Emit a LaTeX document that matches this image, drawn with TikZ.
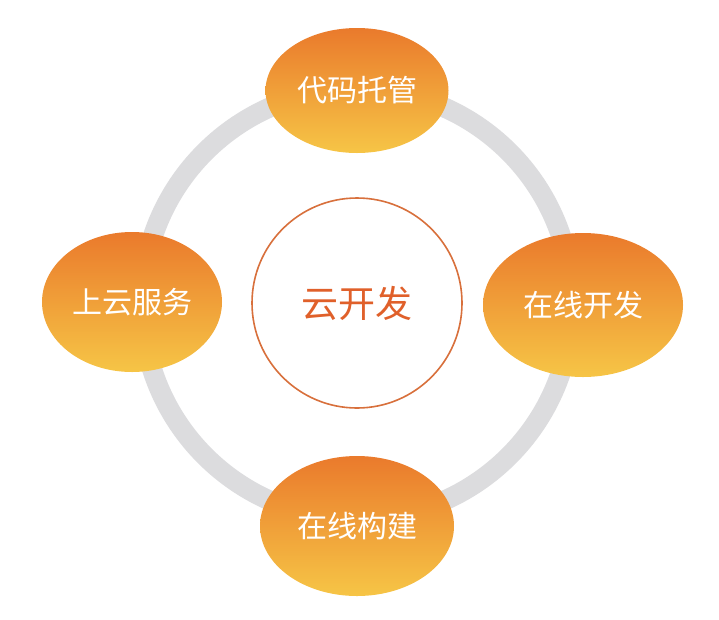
\documentclass[tikz,border=0pt]{standalone}
\usepackage{fontspec}
\setmainfont{Noto Sans CJK SC}
\usepackage{tikz}
\usetikzlibrary{positioning,shapes.geometric}
\definecolor{RingGray}{HTML}{DCDCDE}
\definecolor{PetalTop}{HTML}{EA7A2C}
\definecolor{PetalBot}{HTML}{F6C546}
\definecolor{HubLine}{HTML}{D8703C}
\definecolor{HubText}{HTML}{E0602A}

\begin{document}
\begin{tikzpicture}[x=1pt,y=-1pt,
ring/.style={draw=RingGray,line width=20pt},
petal/.style={ellipse,inner sep=0pt,top color=PetalTop,bottom color=PetalBot,
 text=white,font=\fontsize{30}{36}\selectfont},
hub/.style={circle,draw=HubLine,line width=1.6pt,fill=white,minimum size=210pt,
 text=HubText,font=\fontsize{37}{44}\selectfont}]
\useasboundingbox (0,0) rectangle (719,619);
\coordinate (mid) at (357,304);
\draw[ring] (mid) circle (215);
\node[hub] (hub) at (357,303) {云开发};
\node[petal,minimum width=183pt,minimum height=125pt,above=44pt of hub] (repo) {代码托管};
\node[petal,minimum width=180pt,minimum height=140pt,left=29pt of hub,yshift=1pt] (cloud) {上云服务};
\node[petal,minimum width=200pt,minimum height=144pt,right=20pt of hub,yshift=-2pt] (ide) {在线开发};
\node[petal,minimum width=194pt,minimum height=140pt,below=47pt of hub] (build) {在线构建};
\end{tikzpicture}
\end{document}
